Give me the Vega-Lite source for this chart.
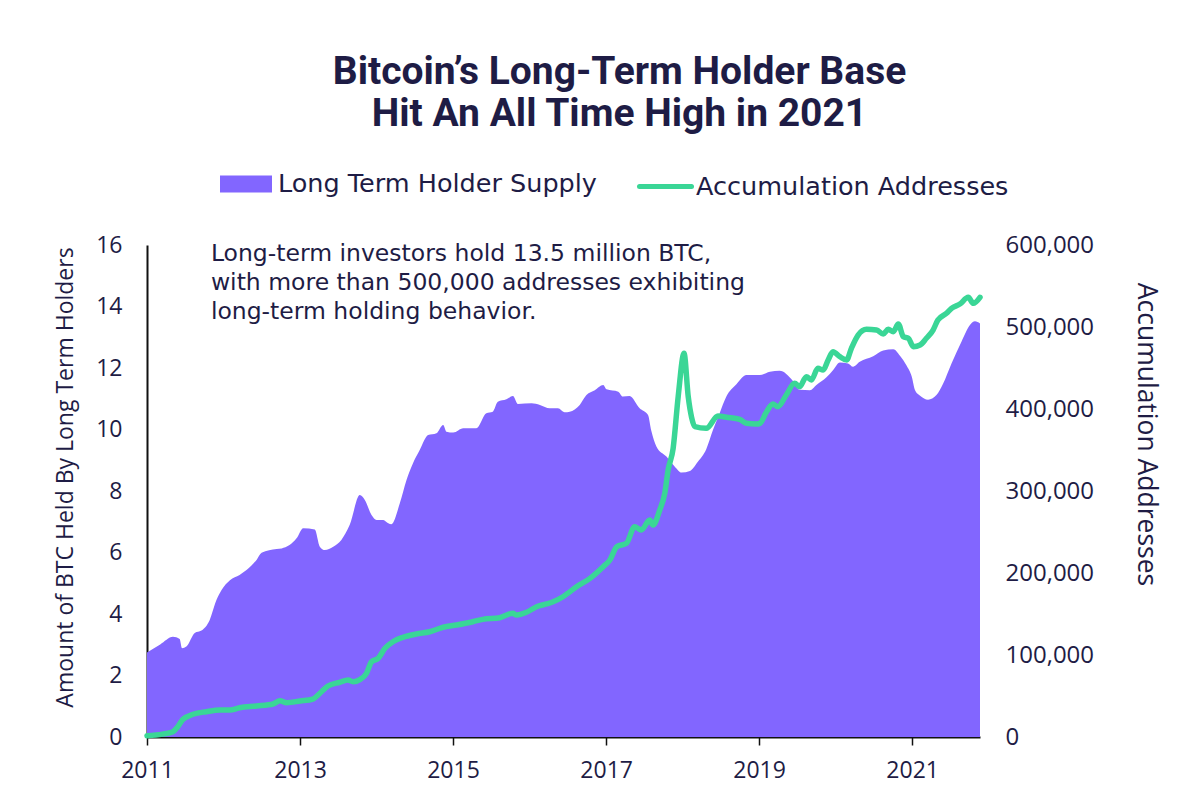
{
  "$schema": "https://vega.github.io/schema/vega-lite/v6.json",
  "width": 833,
  "height": 492,
  "autosize": {"type": "none"},
  "padding": {"left": 147, "top": 245, "right": 198, "bottom": 72},
  "background": "white",
  "config": {"view": {"stroke": null}, "font": "Open Sans"},
  "title": {
    "text": ["Bitcoin’s Long-Term Holder Base", "Hit An All Time High in 2021"],
    "font": "Roboto", "fontSize": 39, "fontWeight": "bold", "color": "#1E1C45",
    "lineHeight": 42, "anchor": "middle", "dx": 56, "offset": 24
  },
  "datasets": {
    "lth": [
      {"date": "2011-01-01", "lth": 2.75}, {"date": "2011-03-05", "lth": 3.01}, {"date": "2011-05-05", "lth": 3.26},
      {"date": "2011-06-06", "lth": 3.19}, {"date": "2011-06-17", "lth": 2.89}, {"date": "2011-07-08", "lth": 2.94},
      {"date": "2011-08-17", "lth": 3.38}, {"date": "2011-09-18", "lth": 3.46}, {"date": "2011-10-27", "lth": 3.80},
      {"date": "2011-11-29", "lth": 4.46}, {"date": "2011-12-23", "lth": 4.78}, {"date": "2012-02-01", "lth": 5.10},
      {"date": "2012-03-18", "lth": 5.27}, {"date": "2012-04-20", "lth": 5.43}, {"date": "2012-06-07", "lth": 5.76},
      {"date": "2012-07-01", "lth": 5.99}, {"date": "2012-09-11", "lth": 6.11}, {"date": "2012-10-05", "lth": 6.13},
      {"date": "2012-12-15", "lth": 6.46}, {"date": "2013-01-16", "lth": 6.79}, {"date": "2013-03-12", "lth": 6.75},
      {"date": "2013-04-05", "lth": 6.19}, {"date": "2013-04-29", "lth": 6.08}, {"date": "2013-06-08", "lth": 6.19},
      {"date": "2013-07-17", "lth": 6.41}, {"date": "2013-08-26", "lth": 6.90}, {"date": "2013-10-13", "lth": 7.87},
      {"date": "2013-11-06", "lth": 7.71}, {"date": "2013-12-08", "lth": 7.22}, {"date": "2014-01-01", "lth": 7.06},
      {"date": "2014-02-02", "lth": 7.06}, {"date": "2014-02-26", "lth": 6.95}, {"date": "2014-03-13", "lth": 6.92},
      {"date": "2014-04-22", "lth": 7.60}, {"date": "2014-05-24", "lth": 8.36}, {"date": "2014-06-24", "lth": 8.90},
      {"date": "2014-07-26", "lth": 9.33}, {"date": "2014-09-04", "lth": 9.82}, {"date": "2014-10-14", "lth": 9.88},
      {"date": "2014-11-15", "lth": 10.15}, {"date": "2014-12-01", "lth": 9.93}, {"date": "2015-01-02", "lth": 9.90},
      {"date": "2015-02-19", "lth": 10.04}, {"date": "2015-04-22", "lth": 10.04}, {"date": "2015-06-09", "lth": 10.53},
      {"date": "2015-07-10", "lth": 10.58}, {"date": "2015-08-03", "lth": 10.90}, {"date": "2015-09-13", "lth": 10.98},
      {"date": "2015-10-14", "lth": 11.09}, {"date": "2015-11-07", "lth": 10.83}, {"date": "2016-01-11", "lth": 10.85},
      {"date": "2016-02-20", "lth": 10.80}, {"date": "2016-04-07", "lth": 10.69}, {"date": "2016-05-16", "lth": 10.69},
      {"date": "2016-06-17", "lth": 10.56}, {"date": "2016-07-11", "lth": 10.58}, {"date": "2016-08-28", "lth": 10.80},
      {"date": "2016-09-29", "lth": 11.12}, {"date": "2016-11-08", "lth": 11.28}, {"date": "2016-12-18", "lth": 11.45},
      {"date": "2017-01-03", "lth": 11.31}, {"date": "2017-02-28", "lth": 11.23}, {"date": "2017-03-22", "lth": 11.07},
      {"date": "2017-04-23", "lth": 11.09}, {"date": "2017-06-10", "lth": 10.69}, {"date": "2017-07-20", "lth": 10.47},
      {"date": "2017-08-05", "lth": 9.95}, {"date": "2017-08-29", "lth": 9.45}, {"date": "2017-10-16", "lth": 9.12},
      {"date": "2017-11-25", "lth": 8.79}, {"date": "2017-12-27", "lth": 8.60}, {"date": "2018-02-05", "lth": 8.65},
      {"date": "2018-03-15", "lth": 8.95}, {"date": "2018-04-24", "lth": 9.36}, {"date": "2018-05-26", "lth": 9.98},
      {"date": "2018-06-27", "lth": 10.53}, {"date": "2018-07-29", "lth": 11.07}, {"date": "2018-09-15", "lth": 11.47},
      {"date": "2018-11-02", "lth": 11.77}, {"date": "2019-01-05", "lth": 11.77}, {"date": "2019-02-22", "lth": 11.88},
      {"date": "2019-04-09", "lth": 11.91}, {"date": "2019-06-12", "lth": 11.58}, {"date": "2019-07-14", "lth": 11.29},
      {"date": "2019-09-01", "lth": 11.28}, {"date": "2019-10-02", "lth": 11.45}, {"date": "2019-11-19", "lth": 11.70},
      {"date": "2019-12-20", "lth": 11.93}, {"date": "2020-01-22", "lth": 12.18}, {"date": "2020-03-01", "lth": 12.15},
      {"date": "2020-03-25", "lth": 12.04}, {"date": "2020-04-26", "lth": 12.20}, {"date": "2020-06-29", "lth": 12.38},
      {"date": "2020-08-16", "lth": 12.57}, {"date": "2020-10-03", "lth": 12.61}, {"date": "2020-11-04", "lth": 12.40},
      {"date": "2020-12-06", "lth": 12.07}, {"date": "2020-12-30", "lth": 11.72}, {"date": "2021-01-15", "lth": 11.28},
      {"date": "2021-02-08", "lth": 11.10}, {"date": "2021-03-18", "lth": 10.97}, {"date": "2021-04-27", "lth": 11.12},
      {"date": "2021-05-28", "lth": 11.48}, {"date": "2021-07-08", "lth": 12.15}, {"date": "2021-08-25", "lth": 12.86},
      {"date": "2021-10-04", "lth": 13.40}, {"date": "2021-10-28", "lth": 13.52}, {"date": "2021-11-21", "lth": 13.45}
    ],
    "acc": [
      {"date": "2011-01-01", "acc": 1500}, {"date": "2011-03-15", "acc": 3500}, {"date": "2011-05-05", "acc": 6500},
      {"date": "2011-05-28", "acc": 12600}, {"date": "2011-06-22", "acc": 21600}, {"date": "2011-08-09", "acc": 27700},
      {"date": "2011-10-12", "acc": 30900}, {"date": "2011-12-15", "acc": 32900}, {"date": "2012-02-01", "acc": 32900},
      {"date": "2012-03-18", "acc": 35700}, {"date": "2012-06-07", "acc": 37800}, {"date": "2012-08-25", "acc": 40200},
      {"date": "2012-09-27", "acc": 44300}, {"date": "2012-10-28", "acc": 41800}, {"date": "2013-01-01", "acc": 43900},
      {"date": "2013-03-03", "acc": 46300}, {"date": "2013-04-13", "acc": 55200}, {"date": "2013-05-14", "acc": 62200},
      {"date": "2013-07-09", "acc": 66700}, {"date": "2013-08-18", "acc": 69500}, {"date": "2013-09-11", "acc": 67400},
      {"date": "2013-10-13", "acc": 70000}, {"date": "2013-11-14", "acc": 77700}, {"date": "2013-12-08", "acc": 91800},
      {"date": "2014-01-09", "acc": 96000}, {"date": "2014-02-10", "acc": 108200}, {"date": "2014-03-20", "acc": 116200},
      {"date": "2014-05-07", "acc": 121600}, {"date": "2014-07-10", "acc": 125600}, {"date": "2014-09-12", "acc": 128400},
      {"date": "2014-11-15", "acc": 133800}, {"date": "2015-01-18", "acc": 136600}, {"date": "2015-04-06", "acc": 140600},
      {"date": "2015-05-23", "acc": 143500}, {"date": "2015-08-12", "acc": 145500}, {"date": "2015-10-14", "acc": 150800},
      {"date": "2015-10-31", "acc": 148800}, {"date": "2015-12-18", "acc": 152100}, {"date": "2016-02-04", "acc": 158900},
      {"date": "2016-03-22", "acc": 162200}, {"date": "2016-04-23", "acc": 165000}, {"date": "2016-06-09", "acc": 171000},
      {"date": "2016-07-11", "acc": 177000}, {"date": "2016-08-13", "acc": 183300}, {"date": "2016-10-16", "acc": 193500},
      {"date": "2016-12-18", "acc": 207700}, {"date": "2017-01-19", "acc": 215900}, {"date": "2017-02-21", "acc": 232100},
      {"date": "2017-04-08", "acc": 236200}, {"date": "2017-05-17", "acc": 256500}, {"date": "2017-06-18", "acc": 252400},
      {"date": "2017-07-28", "acc": 264600}, {"date": "2017-08-13", "acc": 258500}, {"date": "2017-09-14", "acc": 276800},
      {"date": "2017-10-08", "acc": 297200}, {"date": "2017-10-24", "acc": 325600}, {"date": "2017-11-17", "acc": 352100},
      {"date": "2017-12-11", "acc": 415000}, {"date": "2018-01-08", "acc": 467900}, {"date": "2018-01-28", "acc": 415000},
      {"date": "2018-02-13", "acc": 389900}, {"date": "2018-03-01", "acc": 378400}, {"date": "2018-04-24", "acc": 376400},
      {"date": "2018-06-19", "acc": 391500}, {"date": "2018-07-29", "acc": 389900}, {"date": "2018-10-01", "acc": 387400},
      {"date": "2018-11-02", "acc": 382500}, {"date": "2018-12-20", "acc": 381700}, {"date": "2019-01-05", "acc": 382500},
      {"date": "2019-02-06", "acc": 396700}, {"date": "2019-03-08", "acc": 406100}, {"date": "2019-04-01", "acc": 402800},
      {"date": "2019-05-11", "acc": 417100}, {"date": "2019-06-20", "acc": 431300}, {"date": "2019-07-14", "acc": 427200},
      {"date": "2019-08-15", "acc": 439400}, {"date": "2019-09-08", "acc": 435400}, {"date": "2019-10-09", "acc": 449600},
      {"date": "2019-11-03", "acc": 447600}, {"date": "2019-11-27", "acc": 459800}, {"date": "2019-12-20", "acc": 469900},
      {"date": "2020-01-22", "acc": 463800}, {"date": "2020-02-23", "acc": 459800}, {"date": "2020-03-17", "acc": 474000},
      {"date": "2020-04-18", "acc": 490200}, {"date": "2020-05-28", "acc": 497200}, {"date": "2020-07-15", "acc": 496300},
      {"date": "2020-08-16", "acc": 491500}, {"date": "2020-09-09", "acc": 497200}, {"date": "2020-10-03", "acc": 494300},
      {"date": "2020-10-27", "acc": 503600}, {"date": "2020-11-20", "acc": 488200}, {"date": "2020-12-14", "acc": 486200},
      {"date": "2021-01-07", "acc": 476000}, {"date": "2021-02-08", "acc": 478000}, {"date": "2021-03-10", "acc": 486200},
      {"date": "2021-04-11", "acc": 496300}, {"date": "2021-05-04", "acc": 508500}, {"date": "2021-06-14", "acc": 516700},
      {"date": "2021-07-08", "acc": 522800}, {"date": "2021-08-17", "acc": 528000}, {"date": "2021-09-26", "acc": 536200},
      {"date": "2021-10-20", "acc": 528900}, {"date": "2021-11-21", "acc": 536200}
    ],
    "note": [
      {"note": "Long-term investors hold 13.5 million BTC,\nwith more than 500,000 addresses exhibiting\nlong-term holding behavior."}
    ]
  },
  "layer": [
    {
      "data": {"name": "lth"},
      "mark": {"type": "area", "interpolate": "monotone"},
      "encoding": {
        "x": {
          "field": "date", "type": "temporal",
          "scale": {"type": "utc", "domain": [{"year": 2011, "month": 1, "date": 1, "utc": true}, {"year": 2021, "month": 11, "date": 21, "utc": true}]},
          "axis": {
            "title": null, "grid": false, "format": "%Y",
            "values": [
              {"year": 2011, "month": 1, "date": 1, "utc": true}, {"year": 2013, "month": 1, "date": 1, "utc": true},
              {"year": 2015, "month": 1, "date": 1, "utc": true}, {"year": 2017, "month": 1, "date": 1, "utc": true},
              {"year": 2019, "month": 1, "date": 1, "utc": true}, {"year": 2021, "month": 1, "date": 1, "utc": true}
            ],
            "domainColor": "#111111", "domainWidth": 2, "tickColor": "#111111", "tickWidth": 1.5, "tickSize": 8,
            "labelFont": "Open Sans", "labelFontSize": 23, "labelColor": "#1E1C45", "labelPadding": 14, "labelFlush": false
          }
        },
        "y": {
          "field": "lth", "type": "quantitative",
          "scale": {"domain": [0, 16], "nice": false, "zero": true},
          "axis": {
            "orient": "left", "values": [0, 2, 4, 6, 8, 10, 12, 14, 16], "grid": false, "ticks": false,
            "domainColor": "#111111", "domainWidth": 2,
            "labelFont": "Open Sans", "labelFontSize": 23, "labelColor": "#1E1C45", "labelPadding": 25,
            "title": "Amount of BTC Held By Long Term Holders",
            "titleFont": "Open Sans", "titleFontSize": 23, "titleFontWeight": "normal", "titleColor": "#1E1C45",
            "titleAngle": 270, "titleX": -82, "titleY": 232, "titleAlign": "center", "titleBaseline": "middle"
          }
        },
        "fill": {
          "datum": "Long Term Holder Supply",
          "scale": {"range": ["#8266FF"]},
          "legend": {
            "orient": "none", "legendX": 73, "legendY": -87, "title": null, "padding": 0,
            "symbolType": "M-1,-0.33H1V0.33H-1Z", "symbolSize": 2704, "symbolStrokeWidth": 0,
            "labelFont": "DejaVu Sans", "labelFontSize": 25.5, "labelColor": "#1E1C45", "labelOffset": 6, "labelLimit": 500
          }
        }
      }
    },
    {
      "data": {"name": "acc"},
      "mark": {"type": "line", "strokeWidth": 5.5, "strokeCap": "round", "strokeJoin": "round", "interpolate": "monotone"},
      "encoding": {
        "x": {"field": "date", "type": "temporal"},
        "y": {
          "field": "acc", "type": "quantitative",
          "scale": {"domain": [0, 600000], "nice": false},
          "axis": {
            "orient": "right", "values": [0, 100000, 200000, 300000, 400000, 500000, 600000], "format": ",d",
            "grid": false, "ticks": false, "domain": false,
            "labelFont": "Open Sans", "labelFontSize": 24, "labelColor": "#1E1C45", "labelPadding": 25, "labelAlign": "left",
            "title": "Accumulation Addresses",
            "titleFont": "Open Sans", "titleFontSize": 26.5, "titleFontWeight": "normal", "titleColor": "#1E1C45",
            "titleAngle": 90, "titleX": 165, "titleY": 189, "titleAlign": "center", "titleBaseline": "middle"
          }
        },
        "stroke": {
          "datum": "Accumulation Addresses",
          "scale": {"range": ["#3AD696"]},
          "legend": {
            "orient": "none", "legendX": 490, "legendY": -87, "title": null, "padding": 0,
            "symbolType": "stroke", "symbolSize": 2704, "symbolStrokeWidth": 5,
            "labelFont": "DejaVu Sans", "labelFontSize": 25.5, "labelColor": "#1E1C45", "labelOffset": 2, "labelLimit": 500,
            "encode": {"symbols": {"update": {"strokeCap": {"value": "round"}}}}
          }
        }
      }
    },
    {
      "data": {"name": "note"},
      "mark": {"type": "text", "align": "left", "baseline": "alphabetic", "lineBreak": "\n", "lineHeight": 29,
               "font": "DejaVu Sans", "fontSize": 23.5, "fill": "#1E1C45"},
      "encoding": {
        "x": {"datum": {"year": 2011, "month": 11, "date": 2, "utc": true}, "type": "temporal"},
        "y": {"datum": 15.49, "type": "quantitative", "scale": {"domain": [0, 16], "nice": false}, "axis": null},
        "text": {"field": "note", "type": "nominal"}
      }
    }
  ],
  "resolve": {"scale": {"y": "independent"}}
}
